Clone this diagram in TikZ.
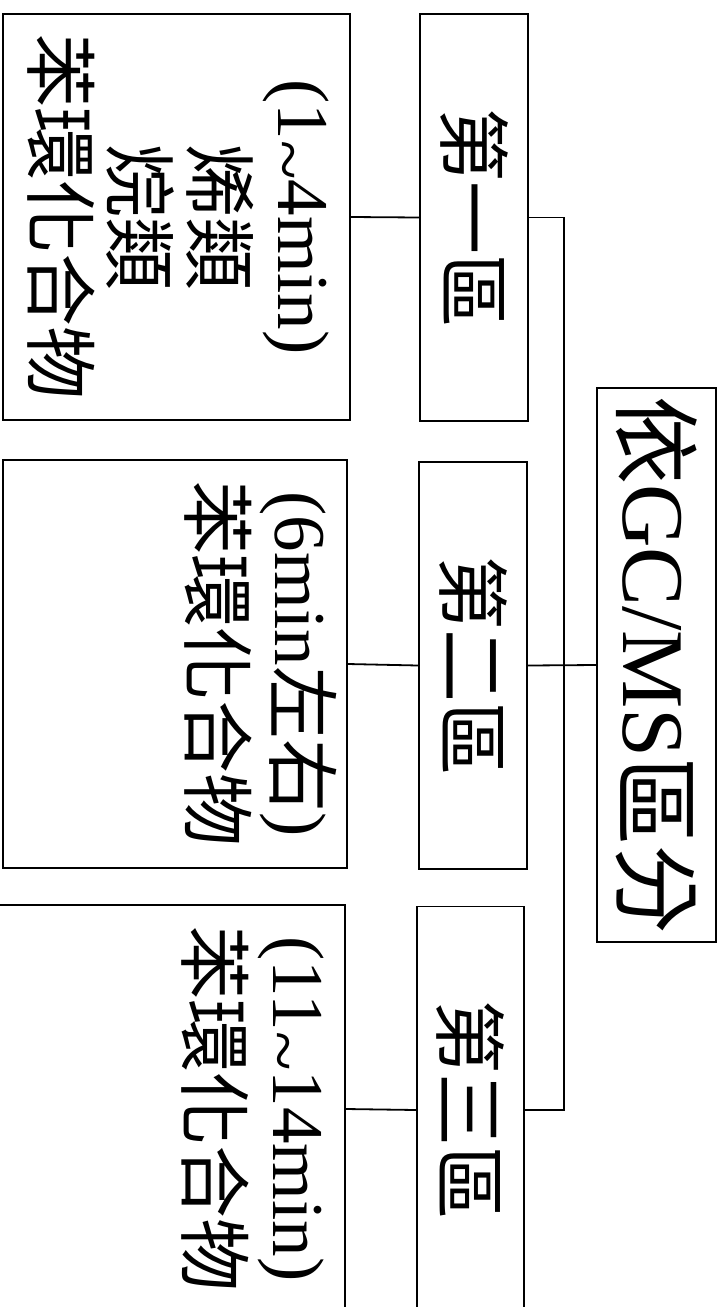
\documentclass[tikz,border=0pt]{standalone}
\usepackage{graphicx}
\usepackage{fontspec}
\setmainfont{Liberation Serif}
\newfontfamily\cjk{Noto Sans CJK TC}
\newcommand{\colbox}[3]{\rotatebox{-90}{\parbox[c][#1][t]{#2}{\centering\fontsize{73}{80}\selectfont\rule{0pt}{71pt}#3\par}}}
\newcommand{\zonetext}[1]{\rotatebox{-90}{\fontsize{73}{80}\selectfont\cjk #1}}
\newcommand{\lowtilde}{\raisebox{-0.2em}{\textasciitilde}}
\tikzset{
  box/.style={draw, line width=1.8pt, inner sep=0pt},
  conn/.style={line width=1.8pt},
}
\begin{document}
\begin{tikzpicture}[x=1pt,y=-1pt]
\clip (0,0) rectangle (726,1307);
\fill[white] (0,0) rectangle (726,1307);
% root
\node[box, minimum width=119pt, minimum height=554pt] (root) at (656.5,665)
  {\rotatebox{-90}{\fontsize{88}{96}\selectfont{\cjk 依}GC/MS{\cjk 區分}}};
% zones
\node[box, minimum width=108pt, minimum height=407pt] (z1) at (474,217.5) {\zonetext{第一區}};
\node[box, minimum width=108pt, minimum height=407pt] (z2) at (473,665.5) {\zonetext{第二區}};
\node[box, minimum width=107pt, minimum height=407pt] (z3) at (470.5,1110) {\zonetext{第三區}};
% detail boxes
\node[box, minimum width=347pt, minimum height=406pt] (b1) at (176.5,217)
  {\colbox{347pt}{406pt}{(1\lowtilde4min)\\[6pt]{\cjk 烯類}\\{\cjk 烷類}\\{\cjk 苯環化合物}}};
\node[box, minimum width=344pt, minimum height=408pt] (b2) at (175,664)
  {\colbox{344pt}{408pt}{(6min{\cjk 左右})\\[6pt]{\cjk 苯環化合物}}};
\node[box, minimum width=347pt, minimum height=408pt] (b3) at (171.5,1109)
  {\colbox{347pt}{408pt}{(11\lowtilde14min)\\[6pt]{\cjk 苯環化合物}}};
% connectors
\coordinate (sp) at (564,0);
\draw[conn] (z2.east) -- (root.west);
\draw[conn] (z1.east) -| (sp |- z3.east) -- (z3.east);
\draw[conn] (b1.east) -- (z1.west);
\draw[conn] (b2.east) -- (z2.west);
\draw[conn] (b3.east) -- (z3.west);
\end{tikzpicture}
\end{document}
